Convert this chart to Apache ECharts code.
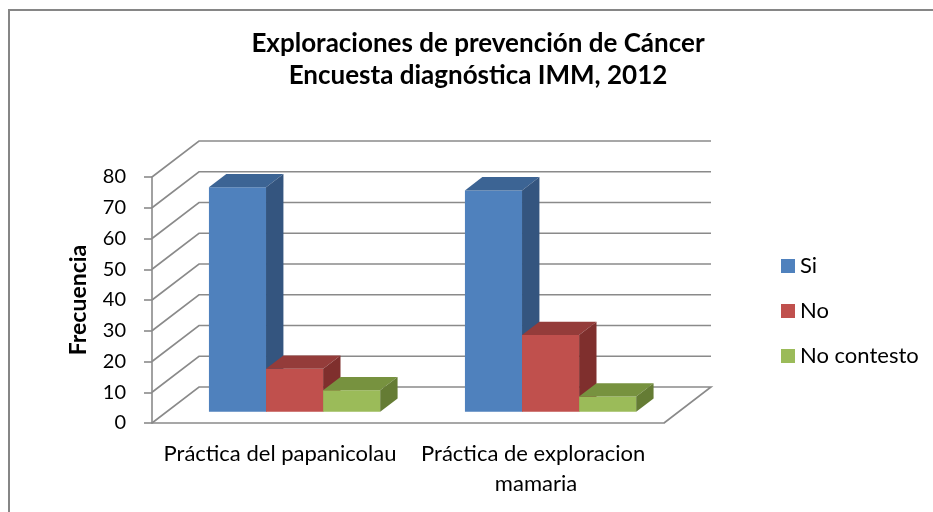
<!DOCTYPE html>
<html>
<head>
<meta charset="utf-8">
<title>Exploraciones de prevención de Cáncer</title>
<script src="https://cdn.jsdelivr.net/npm/echarts@6/dist/echarts.min.js"></script>
<style>
    html, body {
        margin: 0;
        padding: 0;
        background: #ffffff;
    }

    #chart-container {
        width: 933px;
        height: 512px;
    }
</style>
</head>
<body>
<div id="chart-container"></div>
<script>
    // datos
    const categories = ['Práctica del papanicolau', 'Práctica de exploracion mamaria'];
    const si = [73, 72];
    const no = [14, 25];
    const noContesto = [7, 5];
    const yTicks = [0, 10, 20, 30, 40, 50, 60, 70, 80];

    // profundidad del efecto 3D (pixeles)
    const DX = 47;
    const DY = -36;
    const D1 = 0.31; // cara frontal de las barras
    const D2 = 0.68; // cara trasera
    const BAR_RATIO = 0.223;
    const GRID_COLOR = '#8a8a8a';
    const FONT = 'Lato';

    const renderWall = (params, api) => {
        const cs = params.coordSys;
        const v = api.value(1);
        const y = api.coord([0, v])[1];
        const pts = [
            [cs.x, y],
            [cs.x + DX, y + DY],
            [cs.x + cs.width + DX, y + DY]
        ];
        if (v === 0) {
            pts.push([cs.x + cs.width, y]); // borde derecho del piso
        }
        return {
            type: 'polyline',
            shape: { points: pts },
            style: { stroke: GRID_COLOR, lineWidth: 1.6, fill: null }
        };
    };

    const makeBar = (idx, colors) => (params, api) => {
        const cat = api.value(0);
        const val = api.value(1);
        const base = api.coord([cat, 0]);
        const top = api.coord([cat, val]);
        const band = api.size([1, 0])[0];
        const w = band * BAR_RATIO;
        const x0 = base[0] + (idx - 1.5) * w + D1 * DX;
        const x1 = x0 + w;
        const yb = base[1] + D1 * DY;
        const yt = top[1] + D1 * DY;
        const ddx = (D2 - D1) * DX;
        const ddy = (D2 - D1) * DY;
        return {
            type: 'group',
            children: [
                {
                    type: 'rect',
                    shape: { x: x0, y: yt, width: w, height: yb - yt },
                    style: { fill: colors[0] }
                },
                {
                    type: 'polygon',
                    shape: { points: [[x0, yt], [x1, yt], [x1 + ddx, yt + ddy], [x0 + ddx, yt + ddy]] },
                    style: { fill: colors[1] }
                },
                {
                    type: 'polygon',
                    shape: { points: [[x1, yt], [x1 + ddx, yt + ddy], [x1 + ddx, yb + ddy], [x1, yb]] },
                    style: { fill: colors[2] }
                }
            ]
        };
    };

    const barSeries = (name, values, idx, colors) => ({
        name: name,
        type: 'custom',
        clip: false,
        itemStyle: { color: colors[0] },
        encode: { x: 0, y: 1 },
        data: values.map((v, i) => [i, v]),
        renderItem: makeBar(idx, colors)
    });

    const getInit = () => {
        var dom = document.getElementById('chart-container');
        var myChart = echarts.init(dom, null, { renderer: 'canvas' });
        var option = {
            backgroundColor: '#ffffff',
            animation: false,
            title: {
                text: 'Exploraciones de prevención de Cáncer\nEncuesta diagnóstica IMM, 2012',
                left: 473,
                top: 23,
                textAlign: 'center',
                textStyle: {
                    fontFamily: FONT,
                    fontSize: 26,
                    fontWeight: 'bold',
                    color: '#000',
                    lineHeight: 32
                }
            },
            legend: {
                data: ['Si', 'No', 'No contesto'],
                orient: 'vertical',
                left: 776,
                top: 250,
                icon: 'rect',
                itemWidth: 14,
                itemHeight: 14,
                itemGap: 23,
                textStyle: {
                    fontFamily: FONT,
                    fontSize: 22,
                    color: '#000'
                }
            },
            grid: {
                left: 152,
                right: 269,
                top: 177,
                bottom: 89
            },
            xAxis: {
                type: 'category',
                data: categories,
                axisTick: { show: false },
                axisLine: {
                    show: true,
                    lineStyle: { color: GRID_COLOR, width: 1.6 }
                },
                axisLabel: {
                    interval: 0,
                    margin: 16,
                    width: 250,
                    overflow: 'break',
                    lineHeight: 30,
                    fontFamily: FONT,
                    fontSize: 22,
                    color: '#000'
                },
                splitLine: { show: false }
            },
            yAxis: {
                type: 'value',
                min: 0,
                max: 80,
                interval: 10,
                name: 'Frecuencia',
                nameLocation: 'middle',
                nameRotate: 90,
                nameGap: 62,
                nameTextStyle: {
                    fontFamily: FONT,
                    fontSize: 23,
                    fontWeight: 'bold',
                    color: '#000'
                },
                axisLine: {
                    show: true,
                    lineStyle: { color: GRID_COLOR, width: 1.6 }
                },
                axisTick: {
                    show: true,
                    length: 8,
                    lineStyle: { color: GRID_COLOR, width: 1.6 }
                },
                axisLabel: {
                    margin: 26,
                    fontFamily: FONT,
                    fontSize: 20,
                    color: '#000'
                },
                splitLine: { show: false }
            },
            graphic: [{
                type: 'rect',
                shape: { x: 9, y: 10, width: 1000, height: 600 },
                style: { fill: null, stroke: '#868686', lineWidth: 2 },
                silent: true
            }],
            series: [
                {
                    name: 'paredes',
                    type: 'custom',
                    clip: false,
                    silent: true,
                    z: 1,
                    encode: { x: 0, y: 1 },
                    data: yTicks.map(v => [0, v]),
                    renderItem: renderWall
                },
                barSeries('Si', si, 0, ['#4f81bd', '#3c6494', '#34557f']),
                barSeries('No', no, 1, ['#c0504d', '#943c3a', '#7f2f2d']),
                barSeries('No contesto', noContesto, 2, ['#9bbb59', '#77923f', '#657c34'])
            ]
        };
        option && myChart.setOption(option);
    };

    getInit();
</script>
</body>
</html>
